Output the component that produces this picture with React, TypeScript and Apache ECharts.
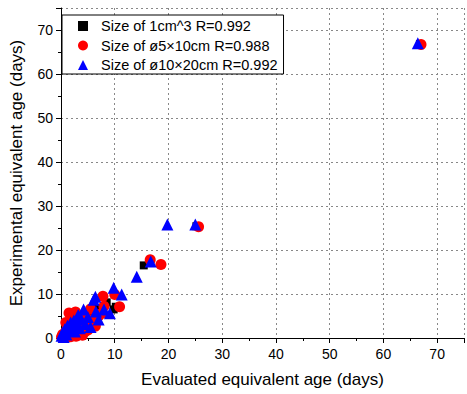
import React, { useEffect, useRef } from "react";
import * as echarts from "echarts";

const seriesNames = [
  "Size of 1cm^3 R=0.992",
  "Size of ø5×10cm R=0.988",
  "Size of ø10×20cm R=0.992",
];

const cubeData: number[][] = [
  [0.2, 0.3], [0.5, 0.6], [0.8, 1.0], [1.2, 1.5], [1.5, 1.2], [2.0, 2.3], [2.5, 2.0],
  [3.0, 3.2], [3.5, 2.8], [4.0, 4.3], [4.5, 3.5], [5.2, 5.3], [5.8, 4.6], [6.5, 6.8],
  [7.2, 6.0], [8.5, 8.1], [9.8, 6.5], [10.2, 7.1], [15.4, 16.5], [25.2, 25.4], [66.8, 66.8],
];

const smallCylData: number[][] = [
  [0.1, 0.2], [0.3, 0.8], [0.6, 0.3], [0.9, 1.5], [1.2, 0.4], [1.5, 2.5], [1.5, 5.7],
  [0.9, 3.5], [2.0, 1.0], [2.2, 3.8], [2.7, 5.9], [2.8, 0.4], [3.0, 2.2], [3.6, 1.3],
  [3.3, 4.5], [4.0, 0.6], [4.3, 3.0], [4.5, 5.0], [5.0, 1.8], [5.5, 6.6], [5.8, 3.8],
  [6.4, 2.7], [7.0, 5.0], [7.6, 5.6], [7.8, 9.5], [8.0, 7.2], [10.0, 9.9], [10.9, 7.1],
  [1.8, 0.3], [2.4, 0.8], [3.2, 1.0], [4.5, 1.5], [5.5, 3.0], [6.0, 4.2],
  [16.6, 17.8], [18.6, 16.7], [25.6, 25.3], [67.0, 66.7],
];

const largeCylData: number[][] = [
  [0.1, 0.5], [0.3, 1.2], [0.5, 0.2], [0.7, 2.0], [1.0, 0.8], [1.2, 2.8], [1.5, 1.6],
  [1.8, 3.5], [2.0, 2.2], [2.4, 4.0], [2.6, 1.5], [3.0, 3.0], [3.2, 5.2], [3.5, 2.2],
  [3.8, 4.2], [4.2, 6.5], [4.5, 3.2], [5.0, 4.8], [5.5, 2.5], [6.1, 8.7], [6.4, 9.4],
  [6.5, 6.0], [7.0, 4.2], [8.0, 6.5], [9.1, 5.6], [9.8, 11.4], [11.3, 9.9], [14.1, 13.9],
  [16.7, 17.4], [19.8, 25.8], [25.0, 25.8], [66.4, 67.0],
];

const xTitle = "Evaluated equivalent age (days)";
const yTitle = "Experimental equivalent age (days)";

const FONT = "Arial, 'Liberation Sans', sans-serif";

export default function App() {
  const ref = useRef<HTMLDivElement>(null);
  useEffect(() => {
    if (!ref.current) return;
    const chart = echarts.init(ref.current, undefined, { renderer: "svg" });
    const axisCommon = {
      type: "value" as const,
      min: 0,
      max: 75,
      interval: 10,
      axisLine: { show: true, onZero: false, lineStyle: { color: "#000", width: 1 } },
      axisTick: { show: true, inside: false, length: 5, lineStyle: { color: "#000" } },
      minorTick: { show: true, splitNumber: 2, length: 3, lineStyle: { color: "#000" } },
      splitLine: { show: true, lineStyle: { color: "#888", type: [2, 3], width: 1 } },
      nameLocation: "middle" as const,
      nameTextStyle: { fontFamily: FONT, fontSize: 17, color: "#000" },
    };
    const labelStyle = { fontFamily: FONT, fontSize: 14, color: "#000" };
    chart.setOption({
      animation: false,
      backgroundColor: "#fff",
      grid: { left: 58, top: 8, width: 410, height: 330, containLabel: false },
      legend: {
        left: 62,
        top: 15,
        orient: "vertical",
        backgroundColor: "#fff",
        borderColor: "#000",
        borderWidth: 1,
        borderRadius: 0,
        padding: [3, 6, 1, 16],
        itemWidth: 10,
        itemHeight: 10,
        itemGap: 3.5,
        textStyle: { fontFamily: FONT, fontSize: 14.5, color: "#000", lineHeight: 16, padding: [0, 0, 0, 8] },
        data: seriesNames,
      },
      xAxis: {
        ...axisCommon,
        name: xTitle,
        nameGap: 33,
        axisLabel: { ...labelStyle, margin: 9, formatter: (v: number) => (v > 70 ? "" : String(v)) },
      },
      yAxis: {
        ...axisCommon,
        name: yTitle,
        nameGap: 36,
        axisLabel: { ...labelStyle, margin: 8, formatter: (v: number) => (v > 70 ? "" : String(v)) },
      },
      series: [
        { name: seriesNames[0], type: "scatter", data: cubeData, symbol: "rect", symbolSize: 8, itemStyle: { color: "#000", opacity: 1 } },
        { name: seriesNames[1], type: "scatter", data: smallCylData, symbol: "circle", symbolSize: 11, itemStyle: { color: "#ff0000", opacity: 1 } },
        { name: seriesNames[2], type: "scatter", data: largeCylData, symbol: "triangle", symbolSize: 12, itemStyle: { color: "#0000ff", opacity: 1 } },
      ],
    });
    return () => chart.dispose();
  }, []);
  return (
    <div
      ref={ref}
      style={{ position: "fixed", left: 0, top: 0, width: 467, height: 394 }}
    />
  );
}
